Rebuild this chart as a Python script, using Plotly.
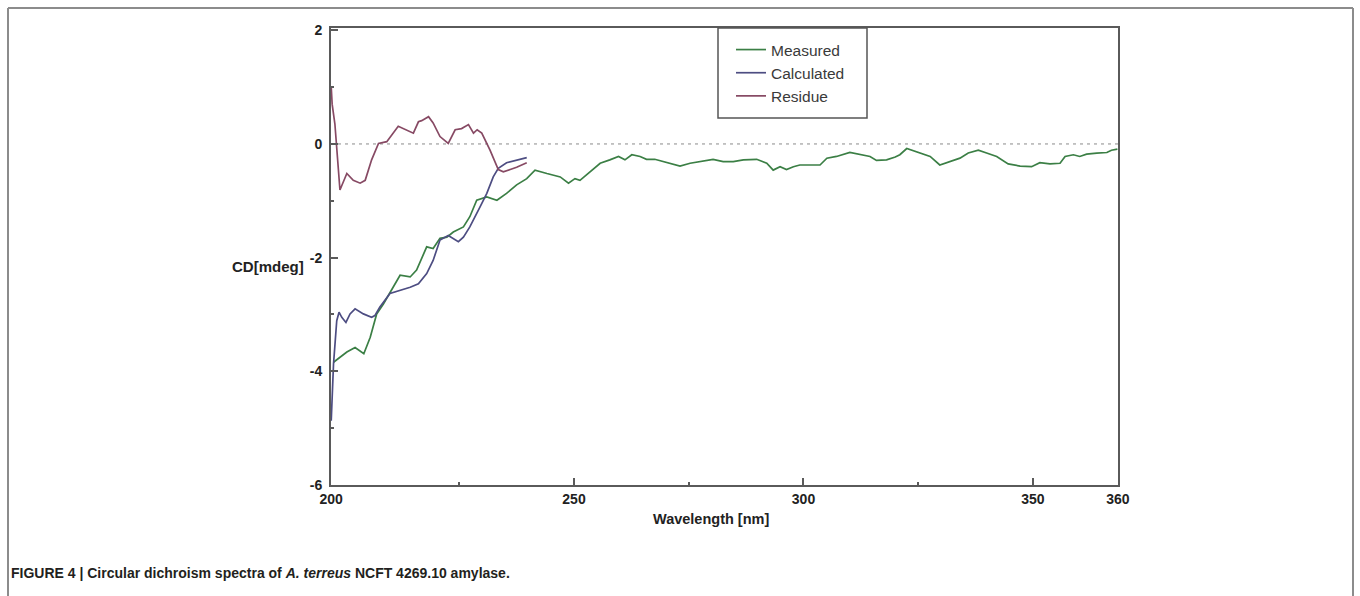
import plotly.graph_objects as go

# ---------------- data ----------------
measured_nm = [197.6, 199.0, 200.5, 202.3, 203.4, 204.2, 205.6, 207.0, 208.5, 210.6,
               212.1, 214.3, 215.7, 217.9, 219.3, 220.8, 222.3, 223.7, 225.9, 227.3,
               228.8, 231.0, 233.2, 235.3, 237.5, 239.7, 241.5, 244.1, 245.5, 247.0,
               248.8, 250.2, 251.3, 253.5, 255.7, 257.8, 259.7, 261.1, 262.6, 264.4,
               265.8, 267.6, 269.5, 270.9, 273.1, 275.3, 277.5, 280.3, 282.5, 284.7,
               286.9, 289.8, 292.0, 293.4, 294.9, 296.3, 297.8, 299.2, 301.4, 303.6,
               305.1, 307.2, 310.1, 312.3, 314.5, 315.9, 318.1, 320.0, 321.0, 322.5,
               324.7, 327.6, 329.7, 331.9, 334.1, 335.9, 338.1, 339.9, 342.1, 344.6,
               347.2, 349.7, 351.5, 353.7, 355.9, 357.0, 358.8, 360.2, 361.7, 363.9,
               366.1, 367.1, 368.4]
measured_cd = [-3.84, -3.75, -3.66, -3.58, -3.64, -3.69, -3.40, -2.99, -2.81, -2.52,
               -2.31, -2.34, -2.22, -1.81, -1.84, -1.66, -1.64, -1.55, -1.46, -1.28,
               -0.99, -0.93, -0.99, -0.87, -0.72, -0.61, -0.46, -0.52, -0.55, -0.58,
               -0.69, -0.61, -0.64, -0.49, -0.34, -0.28, -0.22, -0.28, -0.19, -0.22,
               -0.27, -0.27, -0.31, -0.34, -0.39, -0.34, -0.31, -0.27, -0.31, -0.31,
               -0.28, -0.27, -0.34, -0.46, -0.40, -0.45, -0.40, -0.37, -0.37, -0.37,
               -0.25, -0.22, -0.15, -0.19, -0.22, -0.29, -0.28, -0.23, -0.19, -0.08,
               -0.14, -0.22, -0.37, -0.31, -0.25, -0.16, -0.11, -0.16, -0.22, -0.35,
               -0.39, -0.40, -0.33, -0.35, -0.34, -0.22, -0.19, -0.22, -0.18, -0.16,
               -0.15, -0.11, -0.09]

calculated_nm = [197.1, 197.6, 198.3, 198.8, 199.4, 200.3, 201.2, 202.3, 204.1, 205.9,
                 206.6, 207.7, 209.9, 212.1, 214.3, 216.1, 217.9, 219.3, 220.1, 220.8,
                 222.6, 224.8, 225.9, 227.3, 229.5, 231.0, 232.4, 233.5, 235.3, 237.5,
                 239.7]
calculated_cd = [-4.87, -3.87, -3.11, -2.96, -3.05, -3.14, -2.99, -2.90, -2.99, -3.05,
                 -3.02, -2.87, -2.63, -2.58, -2.52, -2.46, -2.28, -2.05, -1.87, -1.69,
                 -1.61, -1.72, -1.64, -1.46, -1.11, -0.87, -0.58, -0.43, -0.33, -0.28,
                 -0.24]

residue_nm = [197.1, 197.3, 197.9, 199.0, 200.5, 201.9, 203.4, 204.5, 205.9, 207.4,
              209.2, 211.7, 215.0, 216.1, 216.8, 218.3, 219.3, 220.8, 222.6, 224.1,
              225.5, 227.0, 228.1, 228.9, 229.9, 231.7, 233.5, 234.6, 236.1, 237.5,
              239.7]
residue_cd = [1.00, 0.70, 0.35, -0.81, -0.52, -0.64, -0.69, -0.64, -0.28, 0.01,
              0.04, 0.31, 0.19, 0.39, 0.41, 0.48, 0.37, 0.13, 0.01, 0.25,
              0.27, 0.34, 0.19, 0.25, 0.19, -0.11, -0.45, -0.49, -0.45, -0.41,
              -0.33]

x_tick_vals = [197.06, 250, 300, 350, 368.52]
x_tick_text = ["200", "250", "300", "350", "360"]
x_minor_vals = [225, 275, 325]
y_tick_vals = [-6, -4, -2, 0, 2]
y_tick_text = ["-6", "-4", "-2", "0", "2"]
y_minor_vals = [-5, -3, -1, 1]

# ---------------- figure ----------------
W, H = 1360, 596
# plot area in page pixels
L, R, T, B = 331, 1118, 28, 485


def px(xs):
    return (xs - L) / (R - L)


def py(ys):
    return (B - ys) / (B - T)


fig = go.Figure()
fig.add_trace(go.Scatter(x=measured_nm, y=measured_cd, mode="lines", name="Measured",
                         line=dict(color="#3b7f45", width=1.7)))
fig.add_trace(go.Scatter(x=calculated_nm, y=calculated_cd, mode="lines", name="Calculated",
                         line=dict(color="#4d4d82", width=1.7)))
fig.add_trace(go.Scatter(x=residue_nm, y=residue_cd, mode="lines", name="Residue",
                         line=dict(color="#874a64", width=1.7)))

tick_font = dict(family="Liberation Sans, Arial, sans-serif", size=14, color="#222222")

fig.update_layout(
    width=W, height=H,
    margin=dict(l=L, r=W - R, t=T, b=H - B, pad=0),
    paper_bgcolor="white", plot_bgcolor="white",
    showlegend=True,
    legend=dict(x=px(731), y=py(33), xanchor="left", yanchor="top",
                bgcolor="rgba(0,0,0,0)", borderwidth=0,
                font=dict(family="Liberation Sans, Arial, sans-serif", size=15.5, color="#3a3a3a"),
                itemwidth=30, tracegroupgap=0),
    xaxis=dict(range=[197.05, 368.53], showgrid=False, zeroline=False,
               showline=True, linecolor="#5a5a5a", linewidth=2, mirror=True,
               tickmode="array", tickvals=x_tick_vals, ticktext=x_tick_text,
               ticks="inside", ticklen=7, tickwidth=1.5, tickcolor="#5a5a5a",
               tickfont=dict(tick_font, weight="bold"),
               minor=dict(tickmode="array", tickvals=x_minor_vals, ticks="inside",
                          ticklen=3, tickwidth=1.5, tickcolor="#5a5a5a")),
    yaxis=dict(range=[-6, 2.04], showgrid=False, zeroline=False,
               showline=True, linecolor="#5a5a5a", linewidth=2, mirror=True,
               tickmode="array", tickvals=y_tick_vals, ticktext=y_tick_text,
               ticks="inside", ticklen=7, tickwidth=1.5, tickcolor="#5a5a5a",
               ticklabelstandoff=4,
               tickfont=dict(tick_font, weight="bold"),
               minor=dict(tickmode="array", tickvals=y_minor_vals, ticks="inside",
                          ticklen=3, tickwidth=1.5, tickcolor="#5a5a5a")),
)

# zero reference line
fig.add_shape(type="line", xref="paper", x0=0, x1=1, yref="y", y0=0, y1=0,
              line=dict(color="#8a8a8a", width=1, dash="3px,4px"), layer="below")
# legend box
fig.add_shape(type="rect", xref="paper", yref="paper",
              x0=px(718), x1=px(867), y0=py(118), y1=py(28),
              line=dict(color="#555555", width=1.5))
# outer figure frame (left, top, right edges)
frame = dict(color="#8c8c8c", width=2)
fig.add_shape(type="line", xref="paper", yref="paper",
              x0=px(8), x1=px(8), y0=py(640), y1=py(8), line=frame)
fig.add_shape(type="line", xref="paper", yref="paper",
              x0=px(8), x1=px(1353), y0=py(8), y1=py(8), line=frame)
fig.add_shape(type="line", xref="paper", yref="paper",
              x0=px(1353), x1=px(1353), y0=py(640), y1=py(8), line=frame)

fig.add_annotation(text="<b>Wavelength [nm]</b>", xref="paper", yref="paper",
                   x=px(711), y=py(519), xanchor="center", yanchor="middle",
                   showarrow=False, font=dict(family="Liberation Sans, Arial, sans-serif",
                                              size=14.5, color="#222222"))
fig.add_annotation(text="<b>CD[mdeg]</b>", xref="paper", yref="paper",
                   x=px(306), y=py(266), xanchor="right", yanchor="middle",
                   showarrow=False, font=dict(family="Liberation Sans, Arial, sans-serif",
                                              size=15, color="#222222"))
fig.add_annotation(text="<b>FIGURE 4 | Circular dichroism spectra of <i>A. terreus</i> NCFT 4269.10 amylase.</b>",
                   xref="paper", yref="paper", x=px(9), y=py(573),
                   xanchor="left", yanchor="middle", showarrow=False,
                   font=dict(family="Liberation Sans Narrow, Liberation Sans, Arial, sans-serif",
                             size=14, color="#231f20"))

# remove the browser's default page margin so the figure fills the window exactly
fig.write_html("out.html",
               config={"displayModeBar": False},
               post_script="document.body.style.margin='0';document.body.style.overflow='hidden';")
